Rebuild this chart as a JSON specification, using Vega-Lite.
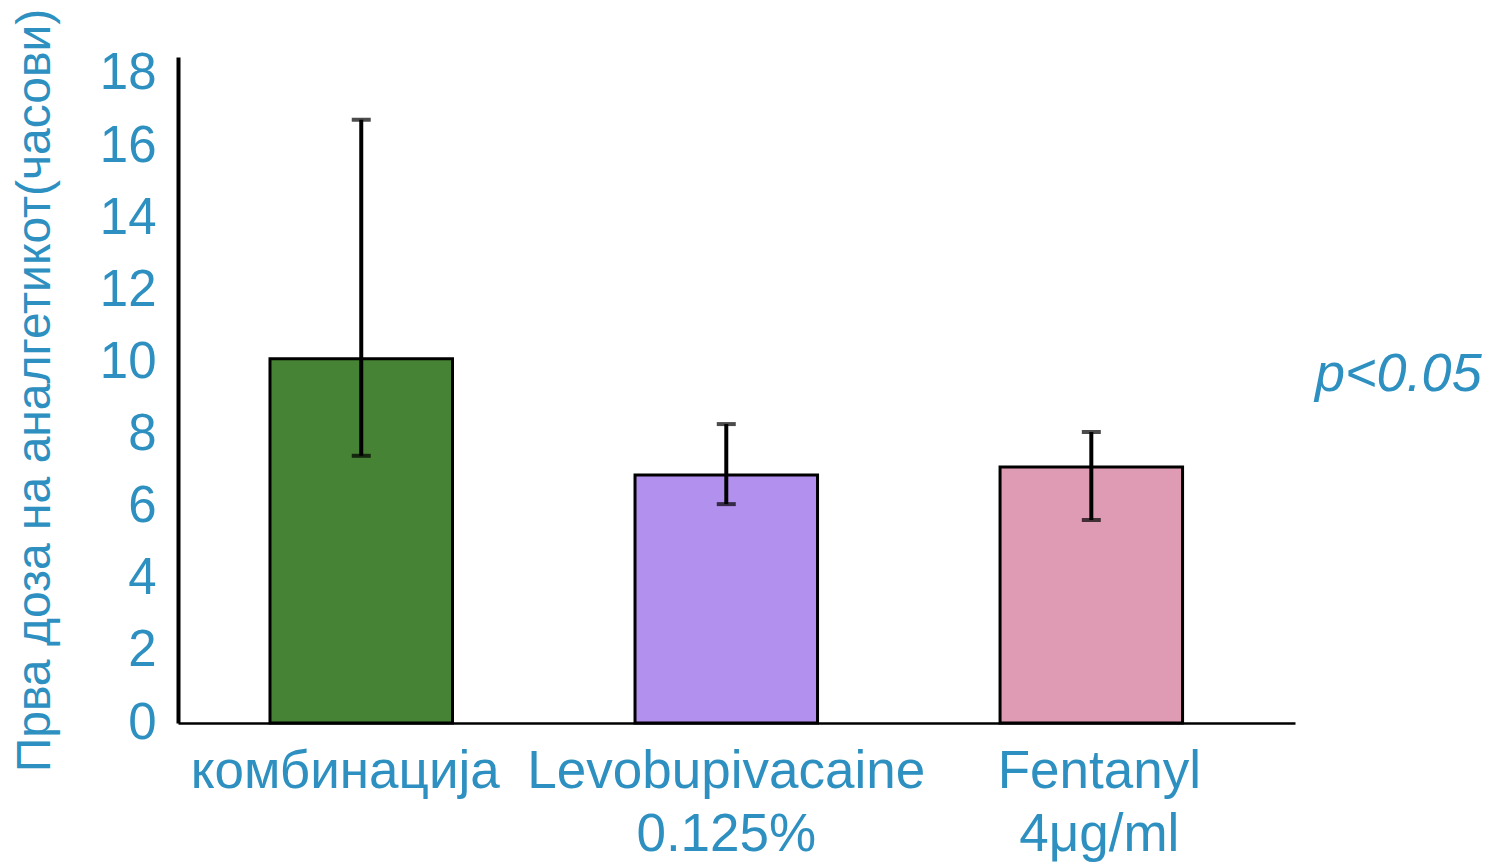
{
  "$schema": "https://vega.github.io/schema/vega-lite/v6.json",
  "autosize": {"type": "none"},
  "padding": {"left": 178, "top": 57, "right": 201, "bottom": 141},
  "width": 1117,
  "height": 666,
  "background": "white",
  "config": {
    "view": {"stroke": null},
    "font": "Liberation Sans"
  },
  "datasets": {
    "bars": [
      {"group": "комбинација", "mean": 10.1, "low": 7.41, "high": 16.73},
      {"group": "Levobupivacaine|0.125%", "mean": 6.88, "low": 6.07, "high": 8.29},
      {"group": "Fentanyl|4μg/ml", "mean": 7.1, "low": 5.63, "high": 8.07}
    ],
    "note": [{"label": "p<0.05", "y": 9.2}]
  },
  "layer": [
    {
      "data": {"name": "bars"},
      "mark": {"type": "bar", "stroke": "black", "strokeWidth": 3},
      "encoding": {
        "x": {
          "field": "group", "type": "nominal", "sort": null,
          "scale": {"type": "band", "paddingInner": 0.5, "paddingOuter": 0.28, "align": 0.45},
          "axis": {
            "title": null, "labelAngle": 0, "ticks": false,
            "domainColor": "black", "domainWidth": 2.5,
            "labelFontSize": 53, "labelColor": "#2E90C0", "labelLimit": 0,
            "labelPadding": 22, "labelLineHeight": 63,
            "labelExpr": "split(datum.label, '|')",
            "labelOffset": {"expr": "datum.value === 'комбинација' ? -16 : (datum.value === 'Fentanyl|4μg/ml' ? 8 : 0)"}
          }
        },
        "y": {
          "field": "mean", "type": "quantitative",
          "scale": {"domain": [0, 18.47], "nice": false},
          "axis": {
            "values": [0, 2, 4, 6, 8, 10, 12, 14, 16, 18],
            "grid": false, "ticks": false,
            "domainColor": "black", "domainWidth": 4,
            "labelFontSize": 51, "labelColor": "#2E90C0",
            "labelPadding": 22, "labelFlush": false, "labelOverlap": false, "labelBound": false,
            "title": "Прва доза на аналгетикот(часови)",
            "titleFontSize": 48, "titleFontWeight": "normal", "titleColor": "#2E90C0",
            "titleAngle": -90, "titleX": -143, "titleY": 333, "titleLimit": 0,
            "titleAlign": "center", "titleBaseline": "middle"
          }
        },
        "color": {
          "field": "group", "type": "nominal", "legend": null,
          "scale": {
            "domain": ["комбинација", "Levobupivacaine|0.125%", "Fentanyl|4μg/ml"],
            "range": ["#468335", "#B290EE", "#DE9BB3"]
          }
        }
      }
    },
    {
      "data": {"name": "bars"},
      "mark": {"type": "rule", "color": "black", "strokeWidth": 4},
      "encoding": {
        "x": {"field": "group", "type": "nominal", "sort": null, "bandPosition": 0.5},
        "y": {"field": "low", "type": "quantitative"},
        "y2": {"field": "high"}
      }
    },
    {
      "data": {"name": "bars"},
      "mark": {"type": "tick", "color": "black", "thickness": 4, "size": 19},
      "encoding": {
        "x": {"field": "group", "type": "nominal", "sort": null, "bandPosition": 0.5},
        "y": {"field": "low", "type": "quantitative"}
      }
    },
    {
      "data": {"name": "bars"},
      "mark": {"type": "tick", "color": "black", "thickness": 4, "size": 19},
      "encoding": {
        "x": {"field": "group", "type": "nominal", "sort": null, "bandPosition": 0.5},
        "y": {"field": "high", "type": "quantitative"}
      }
    },
    {
      "data": {"name": "note"},
      "mark": {
        "type": "text", "fontSize": 54, "fontStyle": "italic", "color": "#2E90C0",
        "align": "left", "baseline": "alphabetic", "x": {"expr": "width"}, "dx": 20
      },
      "encoding": {
        "y": {"field": "y", "type": "quantitative"},
        "text": {"field": "label"}
      }
    }
  ]
}
